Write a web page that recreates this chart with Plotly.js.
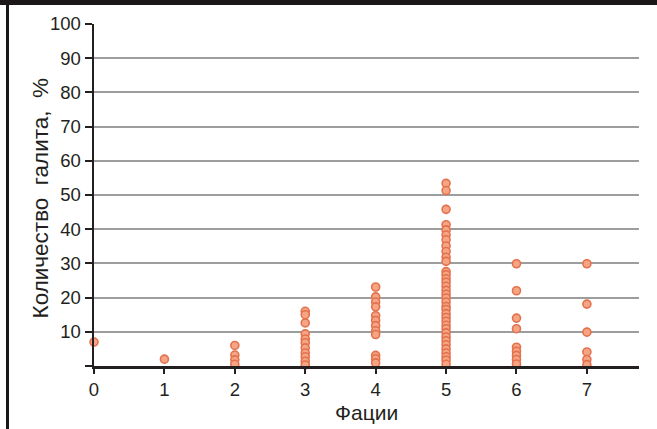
<!DOCTYPE html>
<html>
<head>
<meta charset="utf-8">
<script src="https://cdn.plot.ly/plotly-3.0.1.min.js"></script>
<style>
  html, body { margin: 0; padding: 0; background: #fff; }
  #wrap { position: relative; width: 657px; height: 429px; overflow: hidden; }
  #chart { position: absolute; left: 0; top: 0; width: 657px; height: 429px; }
  .frame-top { position: absolute; left: 0; top: 0; width: 657px; height: 5px; background: #1b1718; }
  .frame-left { position: absolute; left: 6px; top: 0; width: 2.5px; height: 429px; background: #1b1718; }
</style>
</head>
<body>
<div id="wrap">
  <div id="chart"></div>
  <div class="frame-top"></div>
  <div class="frame-left"></div>
</div>
<script>
// Halite content (%) measured for each facies
const facies0 = [7];
const facies1 = [2];
const facies2 = [6, 3.2, 1.8, 0.5];
const facies3 = [16, 15, 12.6, 9.4, 7.9, 6.8, 5.3, 3.8, 2.7, 1.4, 0.3];
const facies4 = [23.1, 20.2, 18.7, 17.3, 14.7, 13.3, 11.8, 10.3, 9.2, 3.1, 2.1, 0.9];
const facies5 = [53.4, 51.3, 45.8, 41.3, 39.8, 38.3, 36.9, 35.1, 33.5, 31.8, 30.6,
                 27.6, 26.7, 25.5, 24.5, 23.3, 22.1, 21.0, 19.9, 18.7, 17.4, 16.5,
                 15.3, 14.2, 13.1, 11.9, 10.9, 9.7, 8.5, 7.4, 6.2, 5.0, 3.8, 2.7, 1.7, 0.5];
const facies6 = [29.9, 22.0, 14.0, 10.9, 5.5, 4.3, 3.1, 1.9, 0.6];
const facies7 = [29.9, 18.1, 9.9, 4.1, 1.9, 0.4];

const faciesCodes = [0, 1, 2, 3, 4, 5, 6, 7];
const faciesValues = [facies0, facies1, facies2, facies3, facies4, facies5, facies6, facies7];

const yTickVals = [0, 10, 20, 30, 40, 50, 60, 70, 80, 90, 100];
const yTickText = ['', '10', '20', '30', '40', '50', '60', '70', '80', '90', '100'];
const xTickVals = [0, 1, 2, 3, 4, 5, 6, 7];
const xTickText = ['0', '1', '2', '3', '4', '5', '6', '7'];

const xs = [], ys = [];
faciesCodes.forEach((code, i) => {
  faciesValues[i].forEach(v => { xs.push(code); ys.push(v); });
});

const trace = {
  type: 'scatter',
  mode: 'markers',
  x: xs,
  y: ys,
  cliponaxis: false,
  hoverinfo: 'x+y',
  marker: {
    size: 8,
    color: '#f5a583',
    line: { color: '#e3714d', width: 1.6 }
  }
};

const FAMILY = 'Liberation Sans, Arial, sans-serif';
const INK = '#231f20';
const tickFont = { family: FAMILY, size: 18.5, color: INK };
const titleFont = { family: FAMILY, size: 22.5, color: INK };

const layout = {
  width: 657,
  height: 429,
  margin: { l: 94, r: 18, t: 23.5, b: 62.5 },
  paper_bgcolor: '#ffffff',
  plot_bgcolor: '#ffffff',
  showlegend: false,
  font: tickFont,
  xaxis: {
    range: [0, 7.74],
    tickmode: 'array',
    tickvals: xTickVals,
    ticktext: xTickText,
    ticks: 'outside',
    ticklen: 5,
    tickwidth: 2,
    tickcolor: INK,
    showline: true,
    linecolor: INK,
    linewidth: 2.5,
    showgrid: false,
    zeroline: false,
    tickfont: tickFont
  },
  yaxis: {
    range: [0, 100],
    tickmode: 'array',
    tickvals: yTickVals,
    ticktext: yTickText,
    ticks: 'outside',
    ticklen: 7,
    tickwidth: 2,
    tickcolor: INK,
    showline: true,
    linecolor: INK,
    linewidth: 2.5,
    showgrid: true,
    gridcolor: '#9d9d9d',
    gridwidth: 2,
    zeroline: false,
    tickfont: tickFont
  },
  // axis titles placed as annotations for finer positioning
  annotations: [
    {
      text: 'Количество  галита,  %',
      xref: 'paper', yref: 'paper',
      x: -0.099, y: 0.49,
      xanchor: 'center', yanchor: 'middle',
      textangle: -90,
      showarrow: false,
      font: titleFont
    },
    {
      text: 'Фации',
      xref: 'paper', yref: 'paper',
      x: 0.5, y: -0.137,
      xanchor: 'center', yanchor: 'middle',
      showarrow: false,
      font: { family: FAMILY, size: 21, color: INK }
    }
  ]
};

Plotly.newPlot('chart', [trace], layout, { displayModeBar: false, staticPlot: true });
</script>
</body>
</html>
